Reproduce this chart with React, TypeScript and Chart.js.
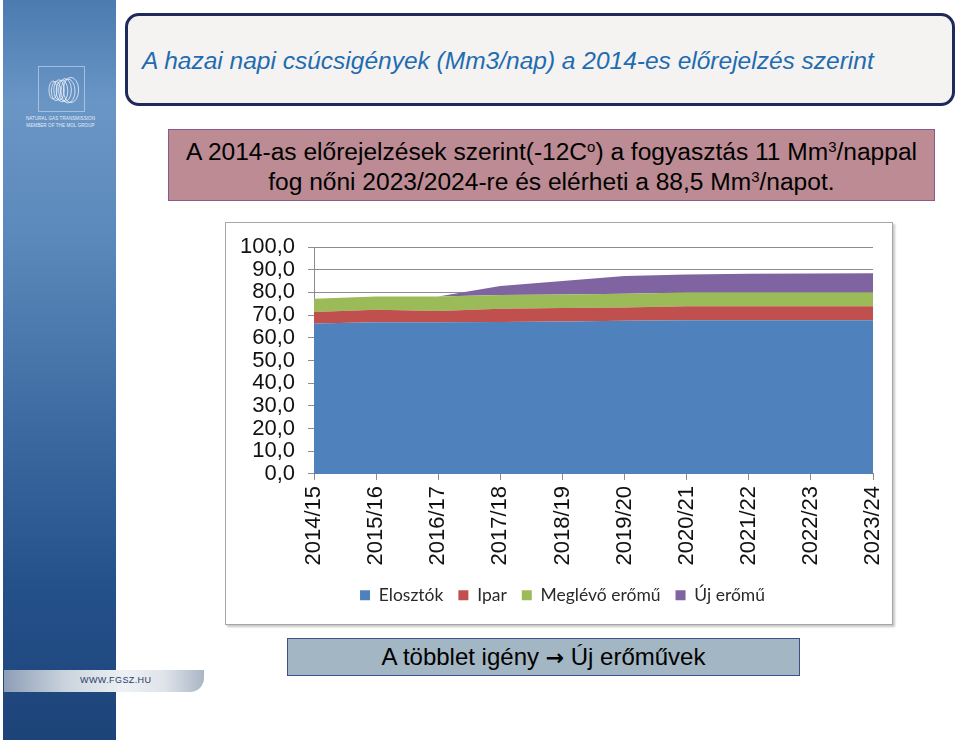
import React, { useEffect, useRef } from "react";
import { Chart, registerables } from "chart.js";
Chart.register(...registerables);

const categories = ["2014/15", "2015/16", "2016/17", "2017/18", "2018/19", "2019/20", "2020/21", "2021/22", "2022/23", "2023/24"];
const elosztok = [66.3, 66.8, 66.8, 67.0, 67.2, 67.5, 67.7, 67.7, 67.7, 67.7];
const ipar = [5.1, 5.5, 5.0, 5.8, 5.9, 5.8, 6.2, 6.2, 6.2, 6.2];
const meglevoEromu = [5.8, 5.9, 6.4, 6.0, 6.0, 6.1, 6.0, 6.0, 6.0, 6.0];
const ujEromu = [0, 0, 0, 4.0, 5.9, 7.8, 8.0, 8.3, 8.4, 8.5];
const seriesNames = ["Elosztók", "Ipar", "Meglévő erőmű", "Új erőmű"];
const seriesColors = ["#4f81bd", "#c0504d", "#9bbb59", "#8064a2"];
const yMin = 0;
const yMax = 100;
const yStep = 10;

const ARIAL = 'Arial, "Liberation Sans", sans-serif';

const legendShift = {
  id: "legendShift",
  afterLayout(chart: any) {
    if (chart.legend) {
      chart.legend.left += 13;
      chart.legend.right += 13;
    }
  },
};

function AreaChart() {
  const ref = useRef<HTMLCanvasElement>(null);
  useEffect(() => {
    if (!ref.current) return;
    const values = [elosztok, ipar, meglevoEromu, ujEromu];
    const chart = new Chart(ref.current, {
      type: "line",
      data: {
        labels: categories,
        datasets: values.map((d, i) => ({
          label: seriesNames[i],
          data: d,
          backgroundColor: seriesColors[i],
          borderColor: "rgba(0,0,0,0)",
          borderWidth: 0,
          fill: i === 0 ? "origin" : "-1",
          pointRadius: 0,
          tension: 0,
        })),
      },
      plugins: [legendShift],
      options: {
        animation: false,
        responsive: false,
        maintainAspectRatio: false,
        layout: { padding: { top: 14, right: 19, left: 0, bottom: 10 } },
        plugins: {
          legend: {
            position: "bottom",
            labels: {
              boxWidth: 10,
              boxHeight: 10,
              padding: 15,
              color: "#2a2a2a",
              font: { family: "Lato, sans-serif", size: 17.5 },
            },
          },
          tooltip: { enabled: false },
        },
        scales: {
          x: {
            grid: { drawOnChartArea: false, tickLength: 6, color: "#8c8c8c" },
            border: { color: "#8c8c8c" },
            ticks: {
              minRotation: 90,
              maxRotation: 90,
              padding: 6,
              color: "#111",
              font: { family: ARIAL, size: 22 },
            },
            afterFit: (s: any) => {
              s.paddingRight = 0;
              s.paddingLeft = 0;
            },
          },
          y: {
            stacked: true,
            min: yMin,
            max: yMax,
            ticks: {
              stepSize: yStep,
              autoSkip: false,
              padding: 13,
              color: "#111",
              font: { family: ARIAL, size: 22, lineHeight: 1 },
              callback: (v: any) => Number(v).toFixed(1).replace(".", ","),
            },
            grid: { color: "#8c8c8c", tickLength: 6 },
            border: { color: "#8c8c8c" },
            afterFit: (s: any) => {
              s.width = 88;
            },
          },
        },
      } as any,
    });
    return () => chart.destroy();
  }, []);
  return <canvas ref={ref} width={666} height={401} style={{ display: "block", width: 666, height: 401 }} />;
}

const supStyle = { fontSize: 14, verticalAlign: "8px", lineHeight: 0 } as const;

export default function App() {
  return (
    <div style={{ position: "absolute", left: 0, top: 0, width: 960, height: 740, background: "#fff", overflow: "hidden", fontFamily: ARIAL }}>
      {/* sidebar */}
      <div style={{ position: "absolute", left: 3, top: 0, width: 113, height: 740, background: "linear-gradient(to bottom, #4b7bb0 0%, #6a96c6 14%, #5b89bb 32%, #3a679e 60%, #24508a 80%, #1d4479 100%)" }} />
      {/* logo */}
      <div style={{ position: "absolute", left: 38, top: 66, width: 47, height: 46, border: "1px solid rgba(220,230,245,0.55)", boxSizing: "border-box" }}>
        <svg width="45" height="44" viewBox="0 0 45 44">
          {[0, 1, 2, 3, 4, 5, 6].map((i) => (
            <ellipse key={i} cx={14 + i * 3} cy={23 + (i % 2)} rx={4 + i * 0.6} ry={9 + i * 0.6} fill="none" stroke="rgba(235,240,250,0.8)" strokeWidth="1" />
          ))}
        </svg>
      </div>
      <div style={{ position: "absolute", left: 18, top: 115, width: 85, textAlign: "center", color: "#e6edf7", fontSize: 4.5, lineHeight: "7px", letterSpacing: 0.1 }}>
        NATURAL GAS TRANSMISSION<br />MEMBER OF THE MOL GROUP
      </div>
      {/* footer band */}
      <div style={{ position: "absolute", left: 4, top: 670, width: 200, height: 22, borderRadius: "0 0 14px 0", background: "linear-gradient(to right, #8d9eb6 0%, #c9d2dd 30%, #eef1f4 60%, #dfe4ea 80%, #aab6c5 100%)" }} />
      <div style={{ position: "absolute", left: 80, top: 675, color: "#1f3d6a", fontSize: 9, letterSpacing: 0.4 }}>WWW.FGSZ.HU</div>

      {/* title box */}
      <div style={{ position: "absolute", left: 125, top: 13, width: 830, height: 93, boxSizing: "border-box", border: "3px solid #1e2a5a", borderRadius: 14, background: "#f5f3f2", display: "flex", alignItems: "center", paddingLeft: 14, paddingTop: 2 }}>
        <span style={{ fontStyle: "italic", fontSize: 24.5, color: "#1f6cb0" }}>A hazai napi csúcsigények (Mm3/nap) a 2014-es előrejelzés szerint</span>
      </div>

      {/* pink box */}
      <div style={{ position: "absolute", left: 168, top: 129, width: 767, height: 72, boxSizing: "border-box", border: "1px solid #8a5a8e", background: "#bc8b93", display: "flex", flexDirection: "column", justifyContent: "center", alignItems: "center", paddingTop: 3, fontSize: 23, lineHeight: "30px", color: "#000" }}>
        <div style={{ transform: "scaleX(1.067)", whiteSpace: "nowrap" }}>A 2014-as előrejelzések szerint(-12C<sup style={supStyle}>o</sup>) a fogyasztás 11 Mm<sup style={supStyle}>3</sup>/nappal</div>
        <div style={{ transform: "scaleX(1.067)", whiteSpace: "nowrap" }}>fog nőni 2023/2024-re és elérheti a 88,5 Mm<sup style={supStyle}>3</sup>/napot.</div>
      </div>

      {/* chart frame */}
      <div style={{ position: "absolute", left: 225, top: 222, width: 668, height: 403, boxSizing: "border-box", border: "1px solid #a6a6a6", boxShadow: "2px 2px 2px #c8c8c8", background: "#fff" }}>
        <AreaChart />
      </div>

      {/* bottom box */}
      <div style={{ position: "absolute", left: 287, top: 638, width: 513, height: 38, boxSizing: "border-box", border: "1px solid #3d4f8c", background: "#a2b6c3", display: "flex", alignItems: "center", justifyContent: "center", fontSize: 24, color: "#000", whiteSpace: "pre" }}>
        A többlet igény <span style={{ fontFamily: '"DejaVu Sans", sans-serif', fontWeight: "bold", fontSize: 22 }}>→</span> Új erőművek
      </div>
    </div>
  );
}
